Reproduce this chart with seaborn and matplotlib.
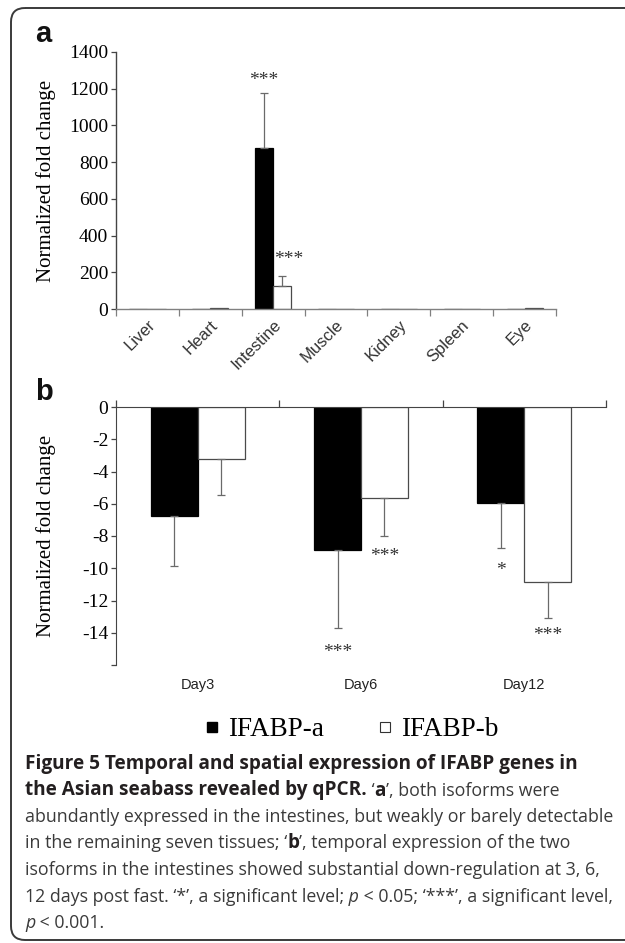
import matplotlib
matplotlib.use("Agg")
import matplotlib.pyplot as plt
import seaborn as sns
import pandas as pd
from matplotlib.patches import FancyBboxPatch
from matplotlib.lines import Line2D

# ---------------- data ----------------
genes = ["IFABP-a", "IFABP-b"]
tissues = ["Liver", "Heart", "Intestine", "Muscle", "Kidney", "Spleen", "Eye"]
tissue_a = [0.3, 0.5, 877, 0.3, 0.3, 0.3, 0.5]
tissue_b = [0.3, 6, 127, 0.3, 0.3, 0.3, 6]
tissue_a_err = [0, 0, 299, 0, 0, 0, 0]
tissue_b_err = [0, 0, 53, 0, 0, 0, 0]
tissue_ticks = [0, 200, 400, 600, 800, 1000, 1200, 1400]
tissue_tick_labels = ["0", "200", "400", "600", "800", "1000", "1200", "1400"]

days = ["Day3", "Day6", "Day12"]
day_a = [-6.77, -8.88, -5.94]
day_b = [-3.20, -5.67, -10.85]
day_a_err = [3.11, 4.80, 2.80]
day_b_err = [2.24, 2.30, 2.24]
day_ticks = [0, -2, -4, -6, -8, -10, -12, -14, -16]
day_tick_labels = ["0", "-2", "-4", "-6", "-8", "-10", "-12", "-14", ""]

# significance marks: (category index, gene index, text, y value)
tissue_marks = [(2, 0, "***", 1247), (2, 1, "***", 267)]
day_marks = [(1, 0, "***", -15.2), (1, 1, "***", -9.3), (2, 0, "*", -10.15), (2, 1, "***", -14.15)]

ylabel_text = "Normalized fold change"
caption_lines = [
    [("Figure 5 Temporal and spatial expression of IFABP genes in", "b")],
    [("the Asian seabass revealed by qPCR.", "b"), (" \u2018", "r"), ("a", "b"), ("\u2019, both isoforms were", "r")],
    [("abundantly expressed in the intestines, but weakly or barely detectable", "r")],
    [("in the remaining seven tissues; \u2018", "r"), ("b", "b"), ("\u2019, temporal expression of the two", "r")],
    [("isoforms in the intestines showed substantial down-regulation at 3, 6,", "r")],
    [("12 days post fast. \u2018*\u2019, a significant level;", "r"), (" p", "i"), (" < 0.05; \u2018***\u2019, a significant level,", "r")],
    [("p", "i"), (" < 0.001.", "r")],
]

# ---------------- figure ----------------
W, H = 625, 943
fig = plt.figure(figsize=(W / 100, H / 100), dpi=100)
fig.patch.set_facecolor("white")

SERIF = "Liberation Serif"
SANS = "Liberation Sans"
CAP = "Open Sans"

ov = fig.add_axes([0, 0, 1, 1], zorder=0)
ov.set_xlim(0, W)
ov.set_ylim(H, 0)
ov.axis("off")
ov.patch.set_alpha(0)

frame = FancyBboxPatch((11, 8), 700, 932, boxstyle="round,pad=0,rounding_size=14",
                       fill=False, edgecolor="#3a3a3a", linewidth=1.4)
ov.add_patch(frame)


def px_axes(left, top, right, bottom):
    return fig.add_axes([left / W, 1 - bottom / H, (right - left) / W, (bottom - top) / H], zorder=2)


def draw_bars(ax, cats, a, b, a_err, b_err, upward):
    df = pd.DataFrame({"cat": cats * 2,
                       "gene": [genes[0]] * len(cats) + [genes[1]] * len(cats),
                       "val": list(a) + list(b)})
    sns.barplot(data=df, x="cat", y="val", hue="gene", order=cats, hue_order=genes,
                palette=["black", "white"], width=0.575, gap=0, errorbar=None,
                legend=False, saturation=1, ax=ax, linewidth=0.9)
    for bar in ax.containers[0]:
        bar.set_edgecolor("black")
    for bar in ax.containers[1]:
        bar.set_edgecolor("#4a4a4a")
    for ci, (vals, errs) in enumerate([(a, a_err), (b, b_err)]):
        bars = ax.containers[ci]
        xs, ys, es = [], [], []
        for bar, v, e in zip(bars, vals, errs):
            if e > 0:
                xs.append(bar.get_x() + bar.get_width() / 2)
                ys.append(v)
                es.append(e)
        zeros = [0] * len(es)
        yerr = [zeros, es] if upward else [es, zeros]
        ax.errorbar(xs, ys, yerr=yerr, fmt="none", ecolor="#6a6a6a", elinewidth=0.9,
                    capsize=2.6, capthick=0.9, zorder=3)


def draw_marks(ax, marks, size, nudge=None):
    nudge = nudge or {}
    for ci, gi, txt, y in marks:
        bar = ax.containers[gi][ci]
        dx = nudge.get((ci, gi), 0)
        ax.text(bar.get_x() + bar.get_width() / 2 + dx, y, txt, ha="center", va="center",
                fontsize=size, family=SERIF, color="#333333")


# ---------------- panel a ----------------
axa = px_axes(116, 52, 556, 309)
axa.patch.set_alpha(0)
draw_bars(axa, tissues, tissue_a, tissue_b, tissue_a_err, tissue_b_err, upward=True)
draw_marks(axa, tissue_marks, 14, nudge={(2, 1): 0.11})
axa.set_xlim(-0.5, len(tissues) - 0.5)
axa.set_ylim(0, 1400)
axa.set_yticks(tissue_ticks)
axa.set_yticklabels(tissue_tick_labels, fontsize=14, family=SERIF)
axa.set_xticks(range(len(tissues)))
axa.set_xticklabels(tissues, rotation=45, ha="right", rotation_mode="anchor",
                    fontsize=12, family=SANS, color="#333333")
axa.set_xticks([i - 0.5 for i in range(len(tissues) + 1)], minor=True)
axa.tick_params(axis="x", which="major", length=0, pad=6)
axa.tick_params(axis="x", which="minor", length=5, width=0.9, color="#808080", direction="out")
axa.tick_params(axis="y", length=3.5, width=0.9, color="#444444", pad=2, direction="out")
for s in ["top", "right"]:
    axa.spines[s].set_visible(False)
axa.spines["bottom"].set_color("#808080")
axa.spines["bottom"].set_linewidth(1.0)
axa.spines["left"].set_color("#444444")
axa.spines["left"].set_linewidth(1.0)
axa.set_xlabel("")
axa.set_ylabel(ylabel_text, fontsize=15, family=SERIF)
axa.yaxis.set_label_coords((56 - 116) / 440, 0.5)

# ---------------- panel b ----------------
axb = px_axes(116, 407, 606, 665)
axb.patch.set_alpha(0)
draw_bars(axb, days, day_a, day_b, day_a_err, day_b_err, upward=False)
draw_marks(axb, day_marks, 14)
axb.set_xlim(-0.5, len(days) - 0.5)
axb.set_ylim(-16, 0)
axb.set_yticks(day_ticks)
axb.set_yticklabels(day_tick_labels, fontsize=14, family=SERIF)
axb.set_xticks(range(len(days)))
axb.set_xticklabels(days, fontsize=10.5, family=SANS, color="#222222")
axb.set_xticks([i - 0.5 for i in range(len(days) + 1)], minor=True)
axb.tick_params(axis="x", which="major", bottom=True, top=False, length=0, pad=9)
axb.tick_params(axis="x", which="minor", bottom=False, top=True, length=5, width=0.9,
                color="#444444", direction="out")
axb.tick_params(axis="y", length=3.5, width=0.9, color="#444444", pad=2, direction="out")
axb.spines["bottom"].set_visible(False)
axb.spines["right"].set_visible(False)
axb.spines["top"].set_color("#444444")
axb.spines["left"].set_color("#444444")
axb.set_xlabel("")
axb.set_ylabel(ylabel_text, fontsize=15, family=SERIF)
axb.yaxis.set_label_coords((56 - 116) / 490, 0.5)

# ---------------- panel letters ----------------
ov.text(35, 42, "a", fontsize=21, family=SANS, fontweight="bold", va="baseline", ha="left", color="#111111")
ov.text(35, 400, "b", fontsize=21, family=SANS, fontweight="bold", va="baseline", ha="left", color="#111111")

# ---------------- legend ----------------
handles = [Line2D([], [], marker="s", linestyle="none", markersize=7, markerfacecolor="black",
                  markeredgecolor="black"),
           Line2D([], [], marker="s", linestyle="none", markersize=7, markerfacecolor="white",
                  markeredgecolor="#333333", markeredgewidth=0.8)]
fig.legend(handles, genes, loc="center", bbox_to_anchor=(352 / W, 1 - 730 / H), ncol=2,
           frameon=False, prop={"family": SERIF, "size": 19.5}, handlelength=0.5,
           handletextpad=0.35, columnspacing=2.0)

# ---------------- caption ----------------
fig.canvas.draw()
renderer = fig.canvas.get_renderer()
probe = ov.text(0, 0, caption_lines[2][0][0], fontsize=13.5, family=CAP)
reg_size = 13.5 * 587 / probe.get_window_extent(renderer).width
probe.remove()
probe = ov.text(0, 0, caption_lines[0][0][0], fontsize=13.5, family=CAP, fontweight="bold")
bold_size = 13.5 * 555 / probe.get_window_extent(renderer).width
probe.remove()

styles = {"b": dict(fontweight="bold", color="#231f20", fontsize=bold_size),
          "r": dict(fontweight="normal", color="#3a3a3a", fontsize=reg_size),
          "i": dict(fontweight="normal", fontstyle="italic", color="#3a3a3a", fontsize=reg_size)}
base = 769
for li, pieces in enumerate(caption_lines):
    x = 25
    y = base + li * 26.5
    for txt, st in pieces:
        t = ov.text(x, y, txt, family=CAP, va="baseline", ha="left", **styles[st])
        bb = t.get_window_extent(renderer)
        x += bb.width

fig.savefig("out.png", dpi=100, facecolor="white")
